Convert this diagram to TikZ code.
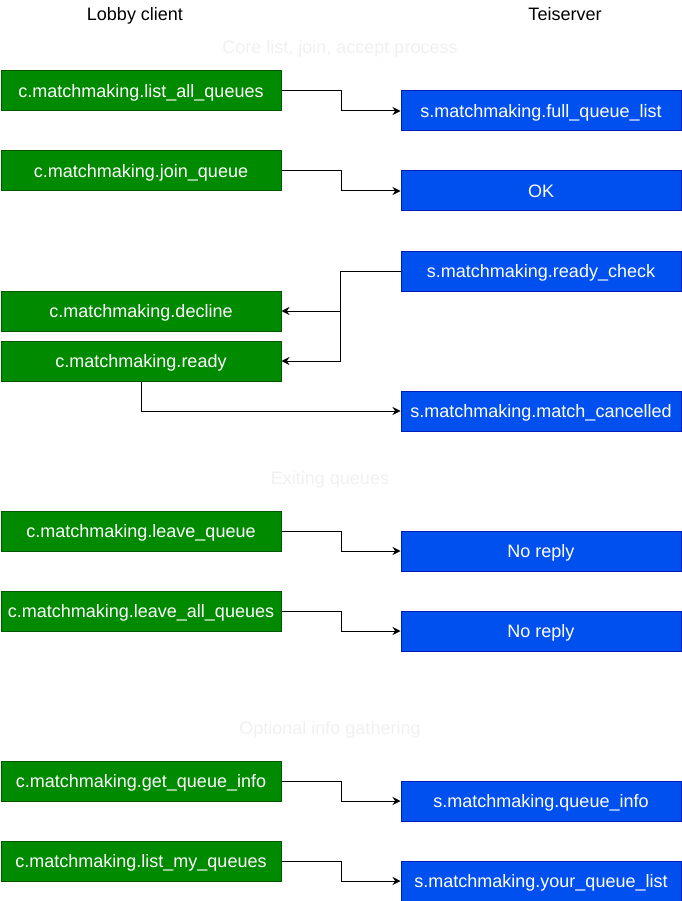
\documentclass[tikz,border=0pt]{standalone}
\usepackage{fontspec}
\setmainfont{Liberation Sans}
\usetikzlibrary{arrows.meta}
\definecolor{gfill}{HTML}{008A00}
\definecolor{gline}{HTML}{005700}
\definecolor{bfill}{HTML}{0050EF}
\definecolor{bline}{HTML}{001DBC}
\definecolor{faint}{HTML}{F0F0F0}
\begin{document}
\begin{tikzpicture}[x=1pt,y=-1pt,
  box/.style={draw, line width=1pt, minimum width=280pt, minimum height=40pt, inner sep=0pt, text height=17pt, text depth=4pt, text=white, font=\fontsize{18}{21}\selectfont, anchor=north west},
  cbox/.style={box, fill=gfill, draw=gline},
  sbox/.style={box, fill=bfill, draw=bline},
  head/.style={font=\fontsize{18}{21}\selectfont, anchor=base},
  sect/.style={font=\fontsize{18}{21}\selectfont, text=faint, anchor=base},
  arr/.style={draw, line width=1pt, -{Stealth[length=8pt,width=8pt]}}]
\useasboundingbox (0,0) rectangle (681,901);
\node[head] (hl) at (135,21) {Lobby client};
\node[head] (hr) at (565,21) {Teiserver};
\node[sect] (s1) at (340,54) {Core list, join, accept process};
\node[sect] (s2) at (330,484) {Exiting queues};
\node[sect] (s3) at (330,734) {Optional info gathering};

\node[cbox] (c1) at (0.5,70.5) {c.matchmaking.list\_all\_queues};
\node[cbox] (c2) at (0.5,150.5) {c.matchmaking.join\_queue};
\node[cbox] (c3) at (0.5,290.5) {c.matchmaking.decline};
\node[cbox] (c4) at (0.5,340.5) {c.matchmaking.ready};
\node[cbox] (c5) at (0.5,510.5) {c.matchmaking.leave\_queue};
\node[cbox] (c6) at (0.5,590.5) {c.matchmaking.leave\_all\_queues};
\node[cbox] (c7) at (0.5,760.5) {c.matchmaking.get\_queue\_info};
\node[cbox] (c8) at (0.5,840.5) {c.matchmaking.list\_my\_queues};

\node[sbox] (s1b) at (400.5,90.5) {s.matchmaking.full\_queue\_list};
\node[sbox] (s2b) at (400.5,170.5) {OK};
\node[sbox] (s3b) at (400.5,250.5) {s.matchmaking.ready\_check};
\node[sbox] (s4b) at (400.5,390.5) {s.matchmaking.match\_cancelled};
\node[sbox] (s5b) at (400.5,530.5) {No reply};
\node[sbox] (s6b) at (400.5,610.5) {No reply};
\node[sbox] (s7b) at (400.5,780.5) {s.matchmaking.queue\_info};
\node[sbox] (s8b) at (400.5,860.5) {s.matchmaking.your\_queue\_list};

\draw[arr] (c1.east) -- ++(60,0) |- (s1b.west);
\draw[arr] (c2.east) -- ++(60,0) |- (s2b.west);
\draw[arr] (s3b.west) -- ++(-60,0) |- (c3.east);
\draw[arr] (s3b.west) -- ++(-60,0) |- (c4.east);
\draw[arr] (c4.south) |- (s4b.west);
\draw[arr] (c5.east) -- ++(60,0) |- (s5b.west);
\draw[arr] (c6.east) -- ++(60,0) |- (s6b.west);
\draw[arr] (c7.east) -- ++(60,0) |- (s7b.west);
\draw[arr] (c8.east) -- ++(60,0) |- (s8b.west);
\end{tikzpicture}
\end{document}
